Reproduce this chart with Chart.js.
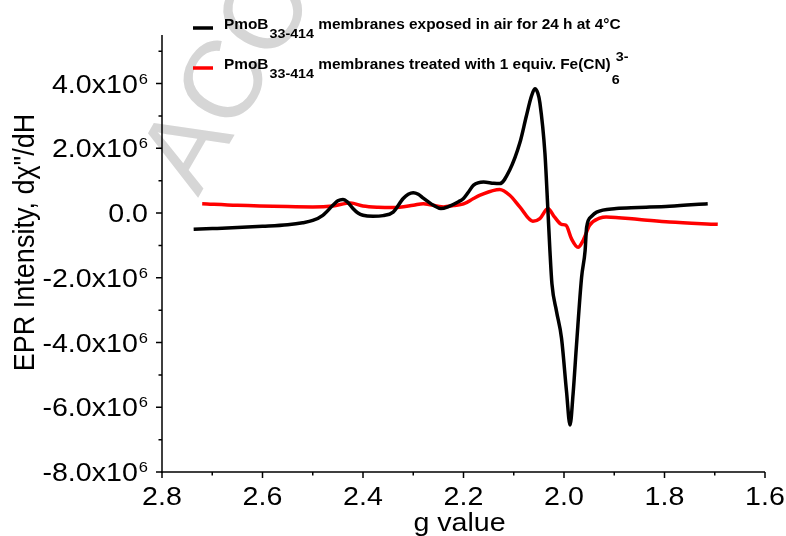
<!DOCTYPE html>
<html>
<head>
<meta charset="utf-8">
<script src="https://cdn.jsdelivr.net/npm/chart.js@4.4.0/dist/chart.umd.min.js"></script>
<style>
  html, body { margin: 0; padding: 0; background: #fff; }
  #chart { display: block; }
</style>
</head>
<body>
<canvas id="chart" width="786" height="536"></canvas>
<script>
// g values / intensities
const gAir = [2.737, 2.70, 2.65, 2.60, 2.55, 2.52, 2.50, 2.48, 2.46, 2.45, 2.44, 2.43, 2.42, 2.41, 2.40, 2.38, 2.36, 2.34, 2.32, 2.31, 2.30, 2.29, 2.28, 2.26, 2.245, 2.23, 2.21, 2.20, 2.19, 2.18, 2.16, 2.14, 2.128, 2.108, 2.088, 2.075, 2.065, 2.058, 2.052, 2.048, 2.038, 2.032, 2.028, 2.024, 2.015, 2.005, 1.995, 1.988, 1.982, 1.975, 1.965, 1.958, 1.955, 1.945, 1.935, 1.896, 1.852, 1.79, 1.714];
const epAir = [-0.50e6, -0.48e6, -0.45e6, -0.41e6, -0.36e6, -0.30e6, -0.23e6, -0.07e6, 0.24e6, 0.38e6, 0.42e6, 0.33e6, 0.14e6, 0.00e6, -0.07e6, -0.10e6, -0.08e6, 0.03e6, 0.45e6, 0.58e6, 0.63e6, 0.58e6, 0.46e6, 0.24e6, 0.14e6, 0.20e6, 0.35e6, 0.45e6, 0.65e6, 0.86e6, 0.96e6, 0.92e6, 0.91e6, 1.33e6, 2.16e6, 2.99e6, 3.60e6, 3.84e6, 3.70e6, 3.41e6, 1.86e6, 0.08e6, -1.17e6, -2.19e6, -3.03e6, -3.86e6, -5.51e6, -6.55e6, -5.60e6, -4.05e6, -1.99e6, -1.16e6, -0.44e6, -0.10e6, 0.03e6, 0.14e6, 0.17e6, 0.21e6, 0.29e6];

const gFe = [2.72, 2.65, 2.55, 2.50, 2.46, 2.425, 2.40, 2.37, 2.34, 2.30, 2.28, 2.24, 2.22, 2.20, 2.18, 2.167, 2.128, 2.108, 2.088, 2.062, 2.048, 2.032, 2.019, 2.005, 1.996, 1.985, 1.972, 1.962, 1.949, 1.929, 1.916, 1.85, 1.79, 1.694];
const epFe = [0.29e6, 0.24e6, 0.20e6, 0.19e6, 0.22e6, 0.31e6, 0.22e6, 0.18e6, 0.17e6, 0.24e6, 0.29e6, 0.19e6, 0.23e6, 0.28e6, 0.45e6, 0.55e6, 0.73e6, 0.55e6, 0.19e6, -0.25e6, -0.17e6, 0.14e6, -0.12e6, -0.35e6, -0.38e6, -0.80e6, -1.06e6, -0.85e6, -0.38e6, -0.16e6, -0.12e6, -0.20e6, -0.28e6, -0.35e6];

const xTicks = [2.8, 2.6, 2.4, 2.2, 2.0, 1.8, 1.6];
const xMinorTicks = [2.7, 2.5, 2.3, 2.1, 1.9, 1.7];
const yTicks = [4e6, 2e6, 0, -2e6, -4e6, -6e6, -8e6];
const yMinorTicks = [5e6, 3e6, 1e6, -1e6, -3e6, -5e6, -7e6];

const FONT = "'Liberation Sans', Arial, sans-serif";
const STRETCH = 1.1;

function toPoints(xs, ys) {
    return xs.map((x, i) => ({ x: x, y: ys[i] }));
}

function stretchedText(ctx, text, x, y, align) {
    const w = ctx.measureText(text).width * STRETCH;
    let left = x;
    if (align === "right") left = x - w;
    else if (align === "center") left = x - w / 2;
    ctx.save();
    ctx.translate(left, y);
    ctx.scale(STRETCH, 1);
    ctx.textAlign = "left";
    ctx.fillText(text, 0, 0);
    ctx.restore();
    return w;
}

function textWidth(ctx, text) {
    return ctx.measureText(text).width * STRETCH;
}

const watermark = {
    id: "watermark",
    beforeDraw(chart) {
        const ctx = chart.ctx;
        ctx.save();
        ctx.fillStyle = "#d6d6d6";
        ctx.font = "110px " + FONT;
        ctx.translate(198, 198);
        ctx.rotate(-Math.PI / 3);
        ctx.fillText("ACCEPTED MANUSCRIPT", 0, 0);
        ctx.restore();
    }
};

const axesPlugin = {
    id: "originAxes",
    afterDraw(chart) {
        const ctx = chart.ctx;
        const xs = chart.scales.x, ys = chart.scales.y;
        const area = chart.chartArea;
        ctx.save();
        ctx.strokeStyle = "#000";
        ctx.fillStyle = "#000";
        ctx.lineWidth = 1.5;

        // axis lines
        ctx.beginPath();
        ctx.moveTo(area.left, area.top);
        ctx.lineTo(area.left, area.bottom + 1);
        ctx.moveTo(area.left - 1, area.bottom);
        ctx.lineTo(area.right, area.bottom);
        ctx.stroke();

        // y ticks
        ctx.beginPath();
        yTicks.forEach(v => {
            const py = ys.getPixelForValue(v);
            ctx.moveTo(area.left - 6, py);
            ctx.lineTo(area.left, py);
        });
        yMinorTicks.forEach(v => {
            const py = ys.getPixelForValue(v);
            ctx.moveTo(area.left - 3.5, py);
            ctx.lineTo(area.left, py);
        });
        // x ticks
        xTicks.forEach(v => {
            const px = xs.getPixelForValue(v);
            ctx.moveTo(px, area.bottom);
            ctx.lineTo(px, area.bottom + 6);
        });
        xMinorTicks.forEach(v => {
            const px = xs.getPixelForValue(v);
            ctx.moveTo(px, area.bottom);
            ctx.lineTo(px, area.bottom + 3.5);
        });
        ctx.stroke();

        // y tick labels, e.g. 4.0x10^6
        yTicks.forEach(v => {
            const py = ys.getPixelForValue(v);
            const right = area.left - 14;
            if (v === 0) {
                ctx.font = "26px " + FONT;
                stretchedText(ctx, "0.0", right, py + 9, "right");
                return;
            }
            ctx.font = "15px " + FONT;
            const sw = textWidth(ctx, "6");
            stretchedText(ctx, "6", right, py, "right");
            ctx.font = "26px " + FONT;
            stretchedText(ctx, (v / 1e6).toFixed(1) + "x10", right - sw - 1, py + 9, "right");
        });

        // x tick labels
        ctx.font = "26px " + FONT;
        xTicks.forEach(v => {
            const px = xs.getPixelForValue(v);
            stretchedText(ctx, v.toFixed(1), px, area.bottom + 33, "center");
        });

        // axis titles
        stretchedText(ctx, "g value", (area.left + area.right) / 2 - 4, 531, "center");
        ctx.save();
        ctx.font = "27px " + FONT;
        ctx.translate(34, (area.top + area.bottom) / 2 - 11);
        ctx.scale(STRETCH, 1);
        ctx.rotate(-Math.PI / 2);
        ctx.textAlign = "center";
        ctx.fillText("EPR Intensity, d\u03C7\"/dH", 0, 0);
        ctx.restore();

        // legend
        const rows = [
            { color: "#000000", y: 29, main: " membranes exposed in air for 24 h at 4\u00B0C", tail: null },
            { color: "#ff0000", y: 69, main: " membranes treated with 1 equiv. Fe(CN)", tail: true }
        ];
        rows.forEach(r => {
            ctx.strokeStyle = r.color;
            ctx.lineWidth = 3.5;
            ctx.beginPath();
            ctx.moveTo(193, r.y - 1);
            ctx.lineTo(213, r.y - 1);
            ctx.stroke();
            let x = 224;
            ctx.font = "bold 14px " + FONT;
            x += stretchedText(ctx, "PmoB", x, r.y, "left");
            ctx.font = "bold 13px " + FONT;
            x += stretchedText(ctx, "33-414", x + 1, r.y + 8.5, "left") + 1;
            ctx.font = "bold 14px " + FONT;
            x += stretchedText(ctx, r.main, x, r.y, "left");
            if (r.tail) {
                ctx.font = "bold 13px " + FONT;
                stretchedText(ctx, "6", x + 1, r.y + 15, "left");
                stretchedText(ctx, "3-", x + 5, r.y - 8, "left");
            }
        });
        ctx.restore();
    }
};

new Chart(document.getElementById("chart"), {
    type: "line",
    data: {
        datasets: [
            {
                label: "PmoB33-414 membranes exposed in air for 24 h at 4\u00B0C",
                data: toPoints(gAir, epAir),
                borderColor: "#000000",
                borderWidth: 3.5,
                pointRadius: 0,
                cubicInterpolationMode: "monotone",
                fill: false
            },
            {
                label: "PmoB33-414 membranes treated with 1 equiv. Fe(CN)6 3-",
                data: toPoints(gFe, epFe),
                borderColor: "#ff0000",
                borderWidth: 3.5,
                pointRadius: 0,
                cubicInterpolationMode: "monotone",
                fill: false
            }
        ]
    },
    options: {
        responsive: false,
        animation: false,
        layout: { padding: { left: 162, right: 21, top: 35, bottom: 64 } },
        plugins: {
            legend: { display: false },
            tooltip: { enabled: false },
            title: { display: false }
        },
        scales: {
            x: { type: "linear", reverse: true, min: 1.6, max: 2.8, display: false },
            y: { type: "linear", min: -8e6, max: 5.5e6, display: false }
        }
    },
    plugins: [watermark, axesPlugin]
});
</script>
</body>
</html>
